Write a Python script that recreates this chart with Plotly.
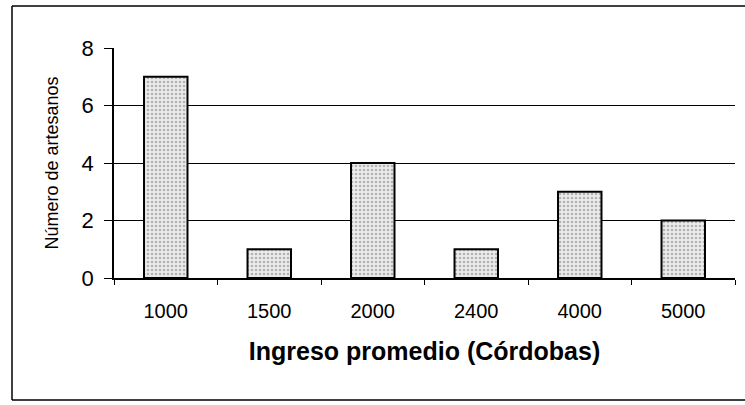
import plotly.graph_objects as go

categories = ["1000", "1500", "2000", "2400", "4000", "5000"]
counts = [7, 1, 4, 1, 3, 2]
y_ticks = [0, 2, 4, 6, 8]

fig = go.Figure(go.Bar(
    x=categories, y=counts,
    marker=dict(
        color="#e4e4e4",
        line=dict(color="black", width=2),
        pattern=dict(shape=".", fgcolor="#7a7a7a", bgcolor="#ececec", size=4, solidity=0.35),
    ),
    width=0.42,
))

W, H = 745, 405
L, R, T, B = 114, 10, 48, 127
pw, ph = W - L - R, H - T - B

def px(x):
    return (x - L) / pw

def py(y):
    return (H - B - y) / ph

frame = dict(color="black", width=1.5)
for x0, y0, x1, y1 in [(12, 6, 12, 400), (12, 6, 760, 6), (12, 400, 760, 400)]:
    fig.add_shape(type="line", xref="paper", yref="paper",
                  x0=px(x0), x1=px(x1), y0=py(y0), y1=py(y1),
                  line=frame, layer="below")

fig.update_layout(
    width=W, height=H,
    margin=dict(l=L, r=R, t=T, b=B),
    plot_bgcolor="white", paper_bgcolor="white",
    font=dict(family="Liberation Sans, Arial, sans-serif", color="black"),
    showlegend=False,
    xaxis=dict(
        type="category",
        tickson="boundaries", ticks="outside", ticklen=5, tickcolor="black",
        showline=True, linecolor="black", linewidth=1.5,
        tickfont=dict(size=20), ticklabelstandoff=14,
        title=dict(text="<b>Ingreso promedio (Córdobas)</b>", font=dict(size=25), standoff=22),
        showgrid=False,
    ),
    yaxis=dict(
        range=[0, 8], tickvals=y_ticks,
        ticks="outside", ticklen=8, tickcolor="black",
        showline=True, linecolor="black", linewidth=1.5,
        tickfont=dict(size=22), ticklabelstandoff=6,
        showgrid=True, gridcolor="black", gridwidth=1,
        zeroline=False,
        title=dict(text="Número de artesanos", font=dict(size=18), standoff=18),
    ),
)

fig.write_html("out.html", config={"displayModeBar": False},
               post_script="document.body.style.margin='0px';")
